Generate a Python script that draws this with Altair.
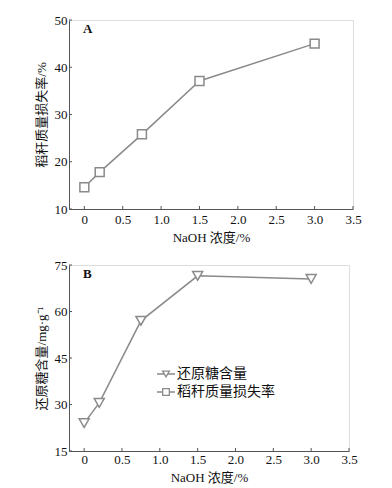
import altair as alt
import pandas as pd

naoh = [0, 0.2, 0.75, 1.5, 3.0]
loss_rate = [14.6, 17.8, 25.8, 37.1, 45.0]
sugar = [24.0, 30.5, 57.0, 71.5, 70.5]
legend_labels = ["还原糖含量", "稻秆质量损失率"]
x_ticks = [0, 0.5, 1.0, 1.5, 2.0, 2.5, 3.0, 3.5]
yA_ticks = [10, 20, 30, 40, 50]
yB_ticks = [15, 30, 45, 60, 75]

FONT = "Liberation Serif, Noto Sans CJK SC"
GRAY = "#8a8a8a"
AX = "#555555"

dfA = pd.DataFrame({"x": naoh, "y": loss_rate})
dfB = pd.DataFrame({"x": naoh, "y": sugar})


def panel(df, yticks, ydom, ytitle, shape, size, letter, w, h, lpad, legend=False):
    xs = alt.Scale(domain=[-0.2, 3.5], nice=False, zero=False)
    ys = alt.Scale(domain=ydom, nice=False, zero=False)
    xax = alt.Axis(values=x_ticks, title="NaOH 浓度/%",
                   labelExpr="datum.value == 0 ? '0' : format(datum.value, '.1f')", tickSize=0,
                   domainColor=AX, labelFont=FONT, titleFont=FONT, labelFontSize=13,
                   titleFontSize=13, titleFontWeight="normal", labelColor="#111", titleColor="#111",
                   labelPadding=lpad, titlePadding=5, grid=False, labelOverlap=False,
                   labelFlush=False, labelBound=False)
    yax = alt.Axis(values=yticks, title=ytitle, tickSize=0, domainColor=AX, labelFont=FONT,
                   titleFont=FONT, labelFontSize=13, titleFontSize=13, titleFontWeight="normal",
                   labelColor="#111", titleColor="#111", labelPadding=2, titlePadding=6,
                   grid=False, labelOverlap=False, labelFlush=False)
    base = alt.Chart(df)
    line = base.mark_line(color=GRAY, strokeWidth=1.5).encode(
        x=alt.X("x:Q", scale=xs, axis=xax), y=alt.Y("y:Q", scale=ys, axis=yax))
    pts = base.mark_point(shape=shape, size=size, filled=True, fill="white",
                          stroke=GRAY, strokeWidth=1.5, opacity=1).encode(
        x=alt.X("x:Q", scale=xs, axis=xax), y=alt.Y("y:Q", scale=ys, axis=yax))
    # inward tick marks
    xt = alt.Chart(pd.DataFrame({"v": x_ticks})).mark_rule(color=AX, strokeWidth=1).encode(
        x=alt.X("v:Q", scale=xs, axis=xax), y=alt.value(h), y2=alt.value(h - 3))
    yt = alt.Chart(pd.DataFrame({"v": yticks})).mark_rule(color=AX, strokeWidth=1).encode(
        y=alt.Y("v:Q", scale=ys, axis=yax), x=alt.value(0), x2=alt.value(3))
    lab = alt.Chart(pd.DataFrame({"t": [letter]})).mark_text(
        font=FONT, fontSize=13, fontWeight="bold", align="left", baseline="middle",
        color="#111").encode(text="t:N", x=alt.value(14), y=alt.value(9))
    layers = [line, pts, xt, yt, lab]
    if legend:
        shapes = ["triangle-down", "square"]
        for i, (name, shp) in enumerate(zip(legend_labels, shapes)):
            yy = 109 + 18 * i
            d = pd.DataFrame({"t": [name]})
            layers.append(alt.Chart(d).mark_rule(color=GRAY, strokeWidth=1.5).encode(
                x=alt.value(88), x2=alt.value(106), y=alt.value(yy)))
            layers.append(alt.Chart(d).mark_point(shape=shp, size=45, filled=True, fill="white",
                                                  stroke=GRAY, strokeWidth=1.3, opacity=1).encode(
                x=alt.value(97), y=alt.value(yy)))
            layers.append(alt.Chart(d).mark_text(font=FONT, fontSize=14, align="left",
                                                 baseline="middle", color="#111").encode(
                text="t:N", x=alt.value(108), y=alt.value(yy)))
    return alt.layer(*layers).properties(width=w, height=h)


A = panel(dfA, yA_ticks, [10, 50], "稻秆质量损失率/%", "square", 80, "A", 284, 189, 4)
B = panel(dfB, yB_ticks, [15, 75], "还原糖含量/mg·g⁻¹", "triangle-down", 100, "B", 280, 186, 2,
          legend=True)

chart = alt.vconcat(A, B, spacing=13).configure_view(stroke=None).configure(
    background="white").properties(padding={"left": 26, "top": 5, "right": 5, "bottom": 0})
chart.save("out.html", embed_options={"renderer": "svg", "actions": False})
